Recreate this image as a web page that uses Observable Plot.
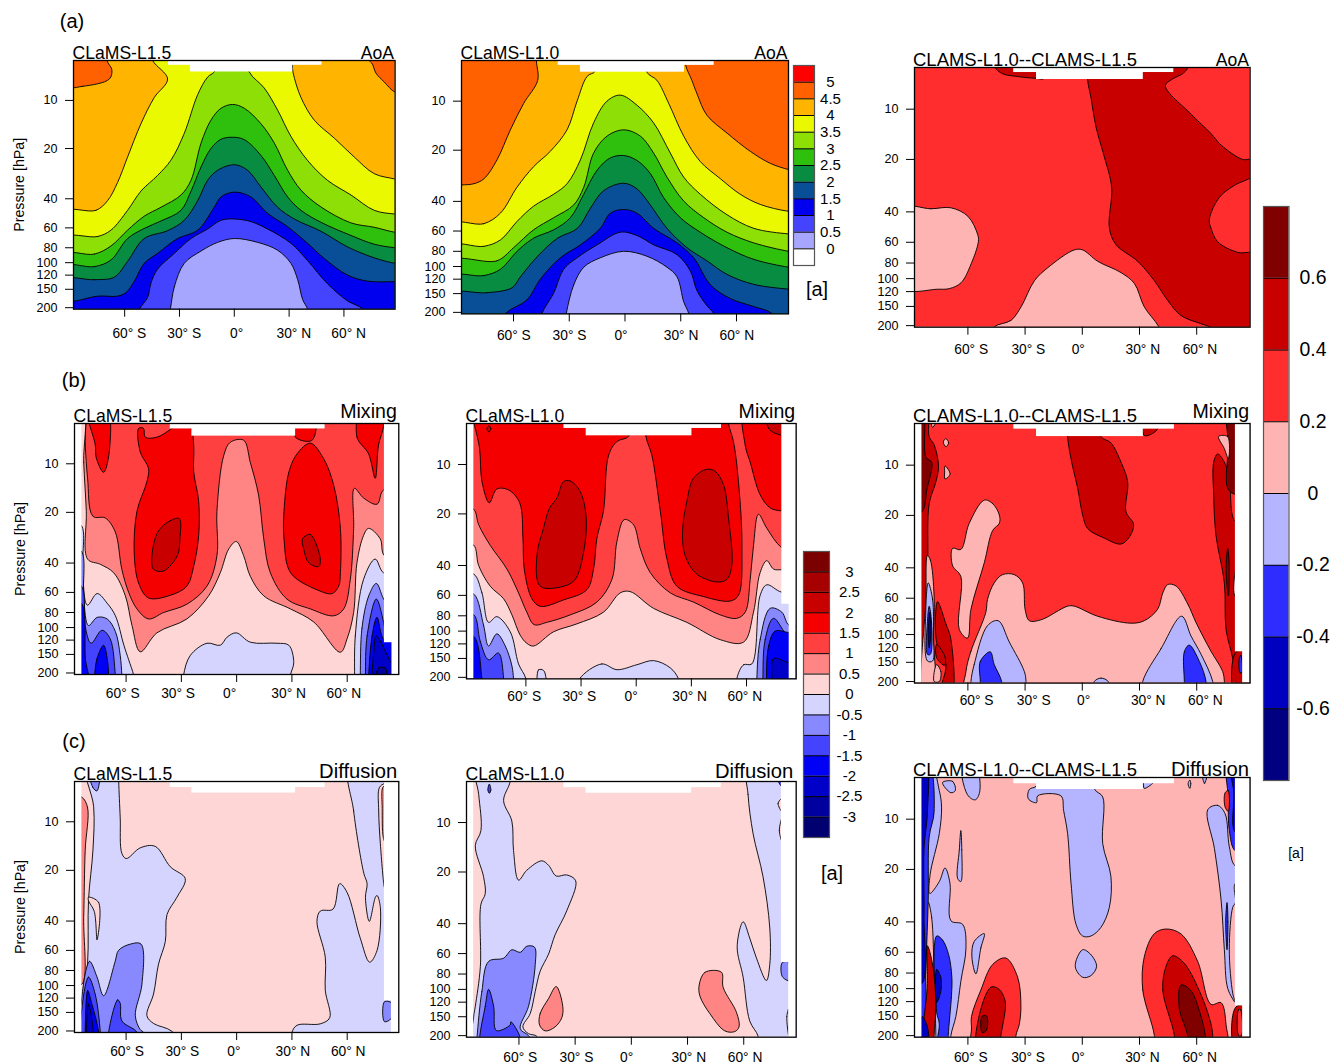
<!DOCTYPE html>
<html>
<head>
<meta charset="utf-8">
<script src="https://cdn.jsdelivr.net/npm/d3@7"></script>
<script src="https://cdn.jsdelivr.net/npm/@observablehq/plot@0.6"></script>
<style>
html,body{margin:0;padding:0;background:#fff}
#page{position:relative;width:1330px;height:1064px;overflow:hidden;font-family:"Liberation Sans",Arial,sans-serif;color:#000}
#page svg{position:absolute}
.note{position:absolute;white-space:nowrap;line-height:1}
</style>
</head>
<body>
<div id="page"></div>
<script>
// ---- shared axes (latitude in degrees, pressure in hPa) ----
const latTicks = [-60,-30,0,30,60];
const pTicks = [10,20,40,60,80,100,120,150,200];
const pLevels = [5.7,10,20,40,60,80,100,120,150,200,204];
const pFraction = [0,.1605,.354,.556,.673,.753,.813,.863,.92,.994,1];

// ---- colour bands ----
const aoaLevels = [0,.5,1,1.5,2,2.5,3,3.5,4,4.5,5];
const aoaColors = ["#ffffff","#a6a6ff","#4444ff","#0000ee","#084f98","#078c41","#2fc00e","#8ddf05","#ebf900","#ffb400","#ff6000","#ff0000"];
const tracerLevels = [-3,-2.5,-2,-1.5,-1,-.5,0,.5,1,1.5,2,2.5,3];
const tracerColors = ["#000070","#00009e","#0000c8","#0000f4","#4444ff","#8888ff","#d4d4ff","#ffd6d6","#ff8484","#ff4040","#f40000","#c80000","#a60000","#7b0000"];
const diffLevels = [-.6,-.4,-.2,0,.2,.4,.6];
const diffColors = ["#000080","#0000c0","#2d2dff","#b4b4ff","#ffb4b4","#ff2d2d","#c80000","#800000"];

// ---- missing-data boxes: [lat1, lat2, p1, p2] ----
const gapA = [[-36,48,3,6.1],[-24,32,3,6.7]];
const gapB1 = [[-36,48,3,6.15],[-24.3,32,3,6.8],[-99,-84,3,300],[80.2,99,3,125],[84.3,99,3,300]];
const gapB2 = [[-39.3,46.4,3,6.1],[-27.2,30.3,3,6.75],[-99,-88.3,3,300],[79.2,99,3,68],[83.2,99,3,300]];
const gapB3 = [[-35.9,48.3,3,6.15],[-24,32,3,6.8],[-99,-84.1,3,300],[80.3,99,3,128],[84.1,99,3,300]];
const gapC1 = [[-36,48,3,6.2],[-24.3,32,3,6.7],[-99,-84,3,300],[80.2,99,3,125],[84,99,3,300]];
const gapC2 = [[-36,48,3,6.2],[-24.2,32.2,3,6.7],[-99,-84.2,3,300],[80.1,99,3,68],[84,99,3,300]];
const gapC3 = [[-35.9,48.3,3,6.2],[-24,32,3,6.7],[-99,-84.1,3,300],[80.3,99,3,128],[84.1,99,3,300]];

// ---- contour regions: [band value, [lat,p, lat,p, ...]] ----
const aoaL15 = [
[4.75,[-95,8.2,-83,8.2,-68.4,7.4,-67,6.5,-69.7,5.7,-70,4.5,-95,4.5]],
[4.75,[95,8.9,88,8.9,82,7.7,77.5,6.8,75.6,6,74,5.7,74,4.5,95,4.5]],
[3.75,[-95,48.5,-75.7,47,-69.3,41,-63.9,32,-58.4,22.5,-51.1,14,-43.8,9.6,-36.5,7.4,-44.7,5.7,-47.4,4.5,30,4.5,32.1,6.7,36.5,9.6,43.8,13.3,54.7,17.2,65.7,22.5,76.6,28.3,88.1,30.5,95,32,95,260,-95,260]],
[3.25,[-95,70,-74.8,68,-67.5,62,-58.4,47,-51.1,36,-42,29,-34.7,23.5,-27.4,16.1,-20,9.2,-14.6,7.2,-11,6.7,-9,5.9,-5,4.5,5,4.5,8.2,6.7,16.4,8.4,23.7,11.5,31,16.8,40,23.5,51,31,63.9,38,76.6,47,88,49.5,95,50,95,260,-95,260]],
[2.75,[-95,89,-76.6,88,-67.5,78,-58.4,62,-49.3,51,-40.1,45,-29.2,38,-23.7,31,-18.2,18.5,-12.8,13.3,-7.3,11.2,-.9,10.6,5.5,11.2,14.6,14,21.9,18.5,29.2,27,36.5,35.5,47.4,44.8,63.9,56,76.6,59.5,88,64,95,65,95,260,-95,260]],
[2.25,[-95,106,-76.6,106,-67.5,96,-58.4,70,-49.3,60.5,-40.1,54.5,-29.2,47,-23.7,36,-18.2,25.8,-12.8,20,-7.3,17.5,-.9,17,5.5,17.6,14.6,22,21.9,29,29.2,39,36.5,47,47.4,55.5,63.9,67,76.6,76,88,80,95,81,95,260,-95,260]],
[1.75,[-95,130,-76.6,129,-65.7,124,-58.4,98,-49.3,70,-36.5,62.5,-27.4,54,-20,41,-14.6,31,-9.1,27,0,25,7.3,27,14.6,34,23.7,45,32.8,53,47.4,63,62,79,76.6,93,88,101,95,103,95,260,-95,260]],
[1.25,[-95,181,-88,181,-74.8,167,-63.9,167,-59.3,158,-54.7,132,-49.3,101,-42,87,-31,70,-20,62,-11,45,-7.3,39,0,36.5,9.1,39,18.2,49,29.2,59,40.1,75,49.3,94,62,120,73,132,88,133,95,133,95,260,-95,260]],
[.75,[-52,204,-47.4,170,-45.6,136,-42,110,-32.8,87,-23.7,70,-14.6,61,-7.3,54,0,53,9.1,55,18.2,61,31,75,40.1,97,51.1,138,62,180,70.3,204,75,260,-57,260]],
[.25,[-35,204,-32.8,144,-27.4,101,-18.2,84,-9.1,74,0,70,12.8,74,23.7,83,31,101,34.7,129,37.4,176,40.1,204,42,260,-37,260]]
];
const aoaL10 = [
[4.25,[-95,32,-88,32,-81.4,31.5,-76,29.5,-68.9,22.8,-61.7,15,-54.5,10.3,-47,7.5,-47.7,5.7,-48,4,5,4,32.5,5,32.5,6,36,7.5,38.7,9,44.1,12.2,54.9,15.7,67.4,20.3,78.2,23.9,88,26,95,27,95,260,-95,260]],
[3.75,[-95,55,-76,54.3,-67,46.9,-58.1,33,-49.2,25,-40.2,20.3,-31.2,15,-25.8,10,-20.4,7.1,-16,6.6,-14,4.5,10,4.5,11.8,6.7,17.2,7.5,23.5,10.3,31.6,16.4,40.5,23.3,51.3,29.4,62,36.3,72.8,41.7,88,45.8,95,46,95,260,-95,260]],
[3.25,[-95,74.6,-76,74.6,-67,68,-58.1,52.6,-49.2,42.7,-38.4,36.3,-31.2,31.5,-24,22.8,-16.9,13.6,-9.7,10,-2.5,9.2,6.5,10.6,15.4,13.6,24.4,20.8,31.6,28.8,40.5,36.3,54.9,48,69.3,57.8,88,62.5,95,63,95,260,-95,260]],
[2.75,[-95,93,-68.9,92,-60,76,-49.2,59,-38.4,50,-27.6,42,-22.2,33,-16.9,20.8,-9.7,16.4,-.7,15,8.3,16.4,15.4,20.8,22.6,28.8,31.6,39.8,42.4,50,54.9,61,69.3,71,88,80,95,82,95,260,-95,260]],
[2.25,[-95,116,-76,114,-67,104,-58.1,80,-49.2,66.4,-38.4,59,-29.4,50,-22.2,36.3,-15,26.2,-7.9,22.2,-.7,21.5,6.5,23,13.6,27.4,20.8,38,29.8,50,40.5,61,54.9,76,69.3,90,88,101,95,103,95,260,-95,260]],
[1.75,[-95,151,-74.3,148,-60.8,137,-56.3,116,-47,86,-36.3,66.4,-25.6,57.8,-18.5,43.7,-11.5,34.6,-.7,31.3,6.5,33.8,13.6,42,22.6,57.8,33.4,76,44.1,92,54.9,112,69.3,130,88,140,95,142,95,260,-95,260]],
[1.25,[-64.4,203,-52.7,165,-45.6,120,-34.8,88,-24,73,-13.3,57.8,-7.9,47,-.7,44.7,6.5,47,15.4,57.8,28,71,37,88,46,131,56.8,162,69.3,183,79.1,203,85,260,-70,260]],
[.75,[-44.7,203,-38.4,149,-33,104,-25.8,88,-15,73,-2.5,61,6.5,64,15.4,73,28,84,35.2,107,38.7,143,44,180,47.7,203,50,260,-47,260]],
[.25,[-31.6,203,-27.6,131,-22.2,101,-13.3,88,-.7,80,11.8,86,22.6,101,28,116,31.6,170,34.3,203,36,260,-33,260]]
];
const aoaDiff = [
[.5,[-46,4.5,-45.7,5.7,-41.8,6.2,-35.7,6.4,-24,6.6,-20,6.6,-20,4.5]],
[.5,[2.8,4.5,2.8,6.75,4.5,8.5,7.2,12.8,11.5,19.2,15.4,28.9,14.2,49.7,17.7,62,29,78,37.8,103,44.8,137,51.8,172,67.5,205,72.8,225,92,225,92,71,81.5,69,71,59.6,67.5,49.7,66.6,44.4,71.9,33,79.7,28.2,90,24.5,90,20,84.1,20,72.8,16.4,67.5,14,57,10.7,43.6,7.3,47.4,6.65,52.6,6.2,55.3,5.7,55.5,4.5]],
[.1,[-95,38,-79.4,38.4,-68.9,37.9,-60,42.4,-54.8,54.4,-54.5,59.5,-58.3,81,-63.6,106,-69.7,115,-75.9,116,-95,114]],
[.1,[-46.2,203,-37.4,185,-32.1,151,-25.1,103,-18.1,85.5,-4.2,66.7,.2,66.7,8,78,20.3,91.7,27.3,107,32.5,151,39.9,201,43,240,-50,240]]
];
const mixL15 = [
[.75,[-83.4,4.5,-82.2,7.7,-80.9,12.3,-78,21.1,-71.3,21.6,-65.9,26.1,-62.3,43.7,-58.6,60,-54.1,76,-47.8,88,-39.6,80,-27,71,-16.1,55,-10.7,36.2,-10.7,19.7,-7,8.9,-3.4,7.4,3.8,7.2,7.4,9.8,11.9,15.6,14.7,28.7,18.3,45.8,27.3,66,40,76,52.7,84,58.1,76,61.7,50,63.5,24.9,63.9,14.2,68.9,16.3,76.2,17.8,79.8,14.5,95,14.5,95,260,-95,260,-95,4.5]],
[1.75,[-80.9,4.5,-76.7,7.7,-76.2,9.2,-72.2,11.3,-68.9,8,-70.7,4.5]],
[1.75,[-53.2,6.1,-50.5,6.1,-49.6,6.9,-43.3,6.9,-36,6.2,-30,5.5,-25,6,-23.3,7.7,-23.3,11.2,-20.6,17.1,-20.6,27.4,-23.3,41.7,-27,55,-36,62.5,-47.8,65,-53.2,52.7,-55.6,34.6,-54.1,19.7,-48.7,12.9,-47.8,10.7,-52.3,8.5]],
[1.75,[31.9,5,31.9,6.9,41,7.2,42.2,5]],
[1.75,[40,7.5,47.2,9.3,52.7,13.6,56.3,24.9,56.3,45.8,55.4,55,51.8,61,43.7,57.9,29.3,45.8,25.7,28.7,25.7,19.7,28.4,11.2,32.8,8.7]],
[1.75,[68,4.5,65.3,6.9,71.6,8.7,75.2,12.3,77,7.7,79.8,5.9,80,4.5]],
[2.25,[-41.5,25,-36,22.4,-31.1,21.8,-30.8,28.7,-32.2,36.2,-39.8,44.7,-45.2,43.5,-46.1,38.5,-44.3,28.7]],
[2.25,[35.8,28.7,40,27,45.4,37.9,44.5,42,39.1,39.8,36.4,33]],
[.25,[-83.8,4.5,-83,9.8,-81.6,19.7,-80.9,37.9,-74,40.7,-66.7,45.8,-60.4,63,-56.8,97,-52.3,144,-43.3,108,-27,88,-15.2,63,-8.9,45.8,-4.3,33,-.2,29.8,3.8,36.2,7.4,48,14.7,63,29.2,76,41.8,92,56.3,145,59.9,118,63.5,80,65.3,39.8,68.9,27.4,71.6,24.9,77.9,28.7,80.2,36.2,95,40,95,260,-95,260,-95,4.5]],
[-.25,[-28.8,250,-28.8,206,-25.1,152,-16.1,126,-8.9,130,-5.2,115,-.2,108,7.4,124,21.9,126,28.3,130,31,170,29.2,206,29,250]],
[-.25,[-84.3,24,-83.6,45,-81,72,-75.7,61,-70.3,70,-65.8,84,-61.2,130,-58.6,163,-55.9,206,-55,250,-90,250,-90,24]],
[-.75,[-84.3,34,-83,66,-80.4,97,-75.7,86,-70.3,88,-65.8,106,-63.2,152,-62.3,206,-62,250,-90,250,-90,34]],
[-1.25,[-84.3,55,-82,101,-79,126,-73.1,104,-68.6,118,-65.8,206,-65,250,-90,250,-90,55]],
[-1.75,[-77.1,206,-75.8,160,-72.2,130,-70,168,-69.5,206,-69,250,-78,250]],
[-1.75,[-84.3,70,-82,165,-80.4,206,-80,250,-90,250,-90,70]],
[-.25,[64,206,64.4,113,68.9,50,75.2,37.9,79.8,45.8,90,45.8,90,250,64,250]],
[-.75,[67.1,206,68,101,71.7,63,75.8,53,79.8,66,90,100,90,250,67,250]],
[-1.25,[69.9,206,70.8,113,75.8,66,79.8,93,83.4,170,90,170,90,250,70,250]],
[-1.75,[71.7,206,73.5,113,76.2,86,80.2,120,90,120,90,250,71.7,250]],
[-2.25,[73.5,206,74.4,145,75.8,113,81.6,150,84,170,90,170,90,250,73.5,250]],
[-2.75,[75.8,206,77,185,80.7,185,81.6,206,81.6,250,75.8,250]]
];
const mixL10 = [
[1.75,[-89.4,5,-87.5,6.1,-85.2,8,-83.9,12.7,-79.9,17.1,-75.8,14.1,-69.4,14.3,-63.4,17.1,-61.6,27.8,-60.9,42,-56.7,63,-52.2,70,-39.5,64,-26.8,55.5,-23.2,42,-21.4,27.8,-17.8,19.2,-15,8.8,-10.5,7.3,-4.2,6.8,-4.2,5.5,-4.2,4.5,-89.4,4.5]],
[1.75,[5.3,4.5,5.3,6.8,8.5,8.8,13.1,19.2,16.7,36.6,22.1,53,36.6,61,51.1,65,55.6,60,57.5,30.5,55.6,12.7,52.9,7.3,50.2,5.7,50,4.5]],
[1.75,[59.3,4.5,59.3,7.7,62,9.7,67.4,15.3,72.9,18.4,79.2,19.2,90,19.5,90,4.5]],
[2.25,[72,4.5,72,6.1,79.2,6.7,90,6.7,90,4.5]],
[2.25,[-80.1,5.9,-79,6.1,-80.1,6.4,-81.2,6.1]],
[2.25,[-39.5,12.7,-35.9,12.6,-30.5,14.6,-27.2,21.1,-28.6,33.4,-33.2,48.3,-39.5,53,-52.2,53,-54,35,-50.4,24.2,-47.1,18.4,-43.1,16]],
[2.25,[38.4,10.7,43,11,47.5,13.3,50.2,21.1,52,40,49.3,48.3,43.9,50,33,45,26.6,35,25.2,25.3,27.6,16.7,31.2,12.1]],
[.75,[-95,18.8,-88.3,18.8,-85.7,23.1,-79.4,30.5,-70.3,42,-64,58,-59.5,76,-55.5,91,-48.6,88,-35.9,79,-21.4,66,-13.2,48.3,-10.5,29,-6.5,21.6,-1.5,23.1,2.2,31.9,7.6,44,18.5,58,31.2,66,45.7,79,54.7,83,59.3,76,62,48.3,63.8,30.5,66.5,20.1,71,24.2,79.2,31.6,95,38,95,260,-95,260]],
[.25,[-95,30.5,-88.3,30.5,-85.7,40,-79.4,53,-72.1,63,-67.6,79,-63.1,106,-59.5,119,-55.8,124,-45,101,-32.3,90,-17.8,76,-8.7,58,-3.3,57,9.4,72,27.5,88,45.7,113,58.4,117,63.8,76,67.4,44,71,37.5,74.7,42,79.2,42.4,95,43,95,260,-95,260]],
[-.25,[-88.3,45,-83.9,58,-80.3,88,-75.8,81,-68.5,101,-64,163,-60,204,-60,260,-95,260,-95,45]],
[-.25,[-54,204,-53.1,178,-50.4,180,-49,204,-49,240,-54,240]],
[-.25,[-30.8,204,-18.7,163,-10.5,178,.4,165,9.4,155,18.5,173,23,204,24,240,-32,240]],
[-.25,[54.7,204,58.4,165,62.9,163,67.4,60,71,52,79.2,57.5,95,57.5,95,260,54.7,260]],
[-.75,[-88.3,59,-83,92,-80.3,124,-75.8,104,-71.2,124,-67.6,168,-66.7,204,-66,260,-95,260,-95,59]],
[-1.25,[-88.3,79,-84.8,116,-80.3,153,-74.9,138,-72.1,204,-72,260,-95,260,-95,79]],
[-1.75,[-88.3,108,-83.9,204,-83,260,-95,260,-95,108]],
[-.75,[65.6,204,67.4,113,72.9,72,79.2,76,83.2,92,95,92,95,260,65.6,260]],
[-1.25,[68.9,204,70.1,113,74.7,83,83.2,108,95,108,95,260,68.9,260]],
[-1.75,[70.8,204,72,124,75.6,100,83.2,102,95,102,95,260,70.8,260]],
[-2.25,[73.8,204,74.7,150,83.2,160,95,160,95,260,73.8,260]]
];
const mixDiff = [
[.5,[-7.7,5,-7.7,6.8,-5.9,9.2,-2.4,13.8,.2,19.9,2.8,23.8,11.5,27,20.3,29.2,24.7,26.6,26.9,22.5,22.9,19,23.8,12.6,20.3,9.6,15,7.4,9.8,6.8,9.8,5]],
[.5,[-84.1,4.5,-81.1,4.5,-80.3,6.8,-77.7,7.6,-75.4,10.1,-76.8,12.6,-80.3,17,-81,34,-81,60,-80,250,-90,250,-90,4.5]],
[.7,[-84.1,4.5,-82.9,4.5,-82,9,-79,9.6,-81.5,14,-84.1,19,-90,19,-90,4.5]],
[.1,[-81.2,34,-79.7,36,-77.7,59,-78,110,-77.7,250,-83,250,-82,60]],
[-.1,[-80.8,48.9,-78.5,61,-78.1,101,-78.5,147,-81.2,147,-82.1,73]],
[-.3,[-80.3,67,-79.1,83,-79.7,133,-81.2,133,-81.2,83]],
[-.5,[-80,73,-79.4,97,-80.3,121,-80.8,97]],
[.5,[-75.9,63,-71.5,86,-68.9,107,-68.9,250,-75,250,-71.5,155,-76.4,112]],
[.5,[-76.4,115,-72,138,-72.2,157,-76.4,140]],
[.1,[-76.4,155,-74.2,172,-75,200,-77.7,200]],
[.5,[71,8.6,68.9,9.6,68.9,15.1,70.1,26,74.5,48.9,75.4,93,78.9,142,80.3,200,90,250,90,21.7,80.3,21.7,77.1,12.1,74.5,9.6]],
[.7,[76.6,4.5,90,4.5,90,15,80.3,15,76.3,13.8,76.6,7.6]],
[.1,[71.5,6.8,76.3,6.8,76.6,9.2,74.5,8]],
[.7,[76.3,31,77.1,40.5,76.6,58,75.4,40.5]],
[.1,[81,38,79.4,55,81,60]],
[.5,[80.6,129,90,129,90,250,80.6,250]],
[-.3,[82.4,140,83.2,135,83.7,175,82.7,175]],
[.1,[-61,172,-58.4,127,-50.6,73,-49.7,61,-46.2,48.9,-41.8,43.8,-35.7,43.8,-31.3,48.9,-30,70,-27.8,82,-21.7,81,-7.7,67,-4.2,67,8,77,25.5,85,32.5,82,39.5,70,42.2,56,44.8,50,49.2,51,55.3,65,59.6,84,67.5,127,73.6,172,74.5,200,74.5,250,-61,250]],
[.1,[-51.4,16.2,-47,17,-43.5,19.9,-43.5,22.2,-47,24.4,-51.4,37.4,-58.4,70,-60.2,105,-64.5,93,-63.7,44.8,-68,39,-68,30.9,-63.7,31.4,-59.3,22.2]],
[-.1,[-58.4,200,-56.7,155,-49.7,88,-44.1,82,-38.3,111,-30.4,172,-29.5,200,-29.5,250,-58.4,250]],
[-.1,[31.7,200,41.3,122,52.1,77,57,102,62.3,133,68.4,200,69,250,31.7,250]],
[-.1,[6.3,200,9.8,190,13.6,200,13.6,230,6.3,230]],
[-.3,[-53.5,200,-53.5,148,-48.3,128,-46.2,155,-42.3,200,-42.3,250,-53.5,250]],
[-.3,[53.5,200,53.5,128,56.1,116,61.4,148,64.9,200,64.9,250,53.5,250]],
[.1,[-71.5,7,-70.1,7.4,-71.5,7.8,-72.9,7.3]],
[.1,[-72,10.1,-69.3,11.3,-72,12.1,-72.2,11]],
[.1,[-79.5,5,-76,5.2,-78.5,6]],
[.5,[32.5,5,39.2,5,39.2,6.2,32.5,6.7]]
];
const difL15 = [
[-.25,[-81.6,4.5,-64.1,4.5,-64,5.7,-63.2,9.4,-62.3,15.7,-59.9,16.9,-52.3,14.5,-44.2,14.2,-36,19,-27.9,22.4,-32.4,28.9,-37.8,36.6,-38.7,53,-42.4,73,-45.1,113,-48.7,158,-45.1,178,-35.1,201,-30,250,-84,250,-84,142,-80.9,72,-80.4,30,-78,15,-77.6,8.1]],
[.25,[-80.4,28.9,-74.9,31,-75.8,51.9,-77.3,35,-80.4,30.3]],
[-.75,[-80.4,4.5,-78,6.2,-75.8,6.5,-74.9,4.5]],
[.75,[-84,7.1,-80.9,8.2,-82.2,15,-83,38,-84,98,-90,98,-90,7]],
[-.75,[-84,118,-79.8,70,-75.8,88,-72.2,116,-65.9,70,-64.1,60,-57.7,55,-51.9,55,-51.4,98,-55,158,-52.3,196,-50.5,204,-50,250,-84,250]],
[-1.25,[-84,142,-80.4,88,-76.8,113,-74,204,-74,250,-84,250]],
[-1.25,[-69.5,204,-64.6,123,-63.2,130,-62.3,171,-54.1,204,-54,250,-69.5,250]],
[-1.75,[-82.2,204,-80.9,107,-78.6,131,-74.9,204,-75,250,-82.2,250]],
[-2.25,[-81.6,204,-80.4,131,-78,190,-78,250,-81.6,250]],
[-.25,[61.7,4.5,63.5,8.6,69,20.8,70.8,24,69.9,28.9,72,40.2,75.3,28.9,76.2,28.2,78,33.3,76.2,60,72.2,71,67.1,50.7,59.9,27,55.9,24,52.3,34,45.4,34.9,43.6,40.2,48.1,66,48.1,107,50.5,163,45.4,179,32.8,183,30,204,30,250,99,250,99,4.5]],
[.25,[77.5,6.2,80.2,5.9,80.2,25.2,78,13.7,77.1,8.6]],
[.75,[79.3,6.2,81,6,81,13.7,79.6,12.5,79,8.3]],
[-.75,[80.2,127,84,129,83.8,165,80.2,173]]
];
const difL10 = [
[-.25,[-83.3,4.5,-64.7,4.5,-64.7,5.7,-68.2,7.4,-63.8,9.8,-62.9,14.8,-60.2,22.3,-55.8,19.5,-47.8,17.1,-44.2,18.2,-40.1,21.1,-34.5,20.8,-29.7,22.5,-34.5,33.7,-40.7,46.5,-44.2,60.5,-48.7,77,-51.3,103,-54,143,-57.9,175,-54.9,194,-50.4,202,-50,250,-84.2,250,-84.2,151,-83.3,128,-80.6,72,-80.3,30.8,-78,26.8,-78.9,21.3,-83.3,13.8,-80.3,11.2,-81.5,6.8]],
[-.75,[-82.4,205,-79.8,103,-76.2,67,-68.2,64,-63.8,57,-59.3,59,-55.8,54.3,-51.7,55,-51.3,70,-54.9,128,-59.3,180,-54.9,200,-50,250,-83,250]],
[-1.25,[-81,205,-78,128,-76.2,100,-73.5,128,-72.1,185,-64.7,170,-64.3,162,-59.3,205,-59,250,-81,250]],
[-1.25,[-75.8,5.9,-75,6.4,-75.8,6.7,-76.6,6.4]],
[.75,[-49,170,-48.7,143,-44.2,114,-40.1,96,-36.6,128,-37.1,152,-40.7,175,-46,186]],
[.75,[36.2,94,39.3,78,48.1,78,49,97,56.1,140,57.5,175,55.2,188,49.9,186,41.9,143,36.6,110]],
[-.25,[62.3,4.5,62.3,6.8,65,11.7,70.3,21.3,73.9,42.4,73.9,70,72.1,88,66.8,64,63.2,48.6,59.7,39,56.5,54.5,59.7,84,63.2,160,67.7,202,67.7,250,92,250,92,4.5]],
[.25,[80.4,7.2,78.3,7.7,80.4,8.6]],
[.25,[80.4,9.4,79,11.2,80.4,13]],
[.25,[84,133,83,150,84,200]],
[-.75,[80.6,68,84.5,68,84.5,88,80.6,83]],
[-1.25,[76.6,4.5,80.2,6.1,85,6.1,85,4.5]]
];
const difDiff = [
[-.1,[-90,4.5,-80.3,4.5,-75,6.8,-73.8,8.5,-75,12.2,-79.8,21.4,-80,27.5,-75,23.5,-72,19.6,-69.4,24,-68.9,39.4,-62.8,41.3,-61,56.6,-63.7,90,-66.3,150,-68.9,200,-69,250,-90,250]],
[.1,[-80.8,30.8,-79,37.7,-77.7,85,-76.8,200,-76.8,250,-82,250,-82,71]],
[-.3,[-90,4.5,-81.2,4.5,-77.7,9,-80.3,12.8,-80.8,30,-82,71,-84.1,250,-90,250]],
[-.5,[-90,4.5,-82.4,4.5,-81.2,9,-83,15,-83,37,-84.1,93,-90,93]],
[-.3,[-76.4,48.3,-73.3,50.9,-70.1,62,-68.4,85,-68.6,110,-70.3,200,-70.5,250,-76.2,250,-75,168,-76.4,140]],
[-.5,[-76.4,76,-74.2,85,-74.2,104,-76.4,122]],
[.5,[-81.2,55,-78.5,71,-76.8,127,-77.7,200,-77.7,250,-82.9,250,-81.2,93]],
[-.5,[-84.1,150,-81.2,175,-81.2,250,-84.1,250]],
[-.1,[-63.7,11.7,-63.2,15.3,-63.7,23.5,-65.4,22.5,-64.5,15.3]],
[-.1,[-73.3,6.1,-68,6,-66.6,6.8,-68.9,7]],
[-.1,[-63.1,4.5,-56.7,4.5,-53.7,6.8,-56.1,7.7,-60.2,7.2]],
[-.1,[-51.4,46.8,-53.2,56.6,-55.8,81,-57.9,64,-56.7,52]],
[-.1,[-27.8,6.7,-24,6.4,-20,5,6.6,5,6.6,6.7,10.7,7.4,10.7,14,15,21.9,14.2,33,9.8,43,4.5,48.3,.2,48.3,-3.3,41.3,-5.9,24,-7.7,12.2,-9.8,8.9,-11.2,7.3,-23.4,7.3,-24,8,-28.3,7.6]],
[-.1,[.2,58,4.5,62,7.5,73,4.5,83,.2,85,-3.7,73]],
[-.1,[65.8,8.8,71,8.3,74.9,9.3,77.1,14.6,80.3,19.1,90,19,90,25,80.3,24,80.3,31,78.9,33,77.1,57.5,78.9,107,80.3,122,76.3,100,74.5,58,72.8,30,69.3,15]],
[-.3,[75.9,31,76.4,40,75.9,58,75.2,40]],
[-.3,[76.6,4.5,90,4.5,90,15.5,80.3,15.5,77.1,11.7,76.6,7.6]],
[-.5,[78,4.5,90,4.5,90,12,80.3,12,79.5,7]],
[.3,[74.9,7,76.6,6.8,76.6,9,74.9,8.5]],
[-.1,[62.3,4.5,64.1,6.2,66.3,4.5]],
[-.1,[56.4,5.9,56.9,6.2,56.4,6.6,55.5,6.2]],
[-.1,[32.5,6,37.8,6,32.5,6.6]],
[.3,[-58,250,-58.1,180,-58.1,150,-53.2,102,-47,71,-40.1,65,-33.9,85,-32.2,126,-33,168,-34.8,200,-35,250]],
[.5,[-54.9,250,-54.9,166,-47.9,98,-43.6,101,-40.4,120,-40.9,150,-42.7,200,-43,250]],
[.7,[-52.6,190,-52.6,150,-50.2,149,-49.7,172,-50.6,187]],
[.3,[37.8,200,31.7,102,32.5,64,37.8,46.8,43.9,44,51.8,47,60.5,68,67.5,125,72.8,122,75.4,170,75.4,250,37.8,250]],
[.5,[48.3,200,42.2,102,43.9,73,47.4,63,53.5,70,62.3,109,67.5,168,68.4,200,68.4,250,48.3,250]],
[.7,[55.3,200,50.9,134,51.8,95,57,103,61.4,138,64.5,200,64.5,250,55.3,250]],
[.5,[80.6,130,90,130,90,250,80.6,250]],
[.3,[82,135,83,135,83.5,200,82,200]]
];

// ---- page assembly ----
const FONT = '"Liberation Sans",Arial,sans-serif';
const page = document.getElementById("page");
const MT = 26, MB = 42, ML = 62, MR = 8;
const pairs = a => { const o = []; for (let i = 0; i < a.length; i += 2) o.push({lat:a[i], p:a[i+1]}); return o; };
const latLabel = d => d === 0 ? "0°" : `${Math.abs(d)}° ${d < 0 ? "S" : "N"}`;

function panel({box, dom=[-88,88], bg, regions, gaps, left, right, leftSize=17.6, rightSize=17.6, leftDx=-1, rightDx=-1, rightDy=-1, yLabel, color, labDx=3, zeroDx=-3, labPad=17}) {
  const [l, r, t, b] = box;
  const H = b - t;
  const nonzero = latTicks.filter(d => d !== 0);
  const plot = Plot.plot({
    width: r - l + ML + MR, height: H + MT + MB,
    marginLeft: ML, marginRight: MR, marginTop: MT, marginBottom: MB,
    style: {background:"none", overflow:"visible", fontFamily:FONT, color:"#000", maxWidth:"none"},
    x: {domain: dom, axis: null},
    y: {type:"log", domain: pLevels, range: pFraction.map(f => MT + f * H), axis: null},
    color,
    marks: [
      Plot.rect([0], {x1:() => dom[0], x2:() => dom[1], y1:() => pLevels[0], y2:() => pLevels[pLevels.length-1], fill:() => bg}),
      ...regions.map(([v, pts]) => Plot.line(pairs(pts), {x:"lat", y:"p", fill:() => v, stroke:"#000", strokeWidth:.9, curve:"catmull-rom-closed", clip:true})),
      Plot.rect(gaps, {x1:"0", x2:"1", y1:"2", y2:"3", fill:"#fff", clip:true}),
      Plot.frame({stroke:"#000", strokeWidth:1.3}),
      Plot.axisX({ticks:latTicks, tickSize:8, tickFormat:() => "", anchor:"bottom"}),
      Plot.axisX({ticks:nonzero, tickSize:0, tickPadding:labPad, dx:labDx, tickFormat:latLabel, anchor:"bottom", fontSize:13.8}),
      Plot.axisX({ticks:[0], tickSize:0, tickPadding:labPad, dx:zeroDx, tickFormat:latLabel, anchor:"bottom", fontSize:13.8}),
      Plot.axisY({ticks:pTicks, tickSize:8, tickFormat:() => "", anchor:"left"}),
      Plot.text(pTicks, {y:d => d, frameAnchor:"left", dx:-16, textAnchor:"end", text:d => String(d), fontSize:12.6}),
      yLabel ? Plot.text(["Pressure [hPa]"], {frameAnchor:"left", dx:-54, rotate:-90, textAnchor:"middle", text:d => d, fontSize:14.2}) : null,
      Plot.text([left], {frameAnchor:"top-left", lineAnchor:"bottom", dx:leftDx, dy:-1, text:d => d, fontSize:leftSize}),
      Plot.text([right], {frameAnchor:"top-right", lineAnchor:"bottom", dx:rightDx, dy:rightDy, text:d => d, fontSize:rightSize})
    ]
  });
  plot.style.left = (l - ML) + "px";
  plot.style.top = (t - MT) + "px";
  page.appendChild(plot);
}

function colorbar({x, y, w, h, lo, hi, levels, color, fontSize, labelX}) {
  const edges = [lo, ...levels, hi];
  const bands = d3.pairs(edges);
  const plot = Plot.plot({
    width: w + 60, height: h + 4,
    marginLeft: 2, marginRight: 58, marginTop: 2, marginBottom: 2,
    style: {background:"none", overflow:"visible", fontFamily:FONT, color:"#000", maxWidth:"none"},
    x: {domain:[0,1], axis:null},
    y: {domain:[lo,hi], axis:null},
    color,
    marks: [
      Plot.rect(bands, {x1:() => 0, x2:() => 1, y1:"0", y2:"1", fill:d => (d[0]+d[1])/2}),
      Plot.ruleY(levels, {stroke:"#000", strokeWidth:1}),
      Plot.frame({stroke:"#555", strokeWidth:1.2}),
      Plot.text(levels, {x:() => 1, y:d => d, dx:labelX, text:d => String(d), textAnchor:"middle", fontSize})
    ]
  });
  plot.style.left = (x - 2) + "px";
  plot.style.top = (y - 2) + "px";
  page.appendChild(plot);
}

function note(text, cx, cy, size) {
  const d = document.createElement("div");
  d.className = "note";
  d.textContent = text;
  d.style.left = cx + "px";
  d.style.top = cy + "px";
  d.style.fontSize = size + "px";
  d.style.transform = "translate(-50%,-50%)";
  page.appendChild(d);
}

const aoaScale = {type:"threshold", domain:aoaLevels, range:aoaColors};
const mixScale = {type:"threshold", domain:tracerLevels, range:tracerColors};
const diffScale = {type:"threshold", domain:diffLevels, range:diffColors};

panel({box:[72.7,394.3,60.3,309], bg:4.25, regions:aoaL15, gaps:gapA, left:"CLaMS-L1.5", right:"AoA", yLabel:true, color:aoaScale, labDx:4.7, zeroDx:2.3, labPad:18.7});
panel({box:[461.3,788.3,60.3,313.7], bg:4.75, regions:aoaL10, gaps:gapA, left:"CLaMS-L1.0", right:"AoA", color:aoaScale, labDx:.3, zeroDx:-4, labPad:16.3});
panel({box:[913.7,1249.3,67,326.7], bg:.3, regions:aoaDiff, gaps:gapA, left:"CLAMS-L1.0--CLAMS-L1.5", leftDx:-1.5, right:"AoA", leftSize:18.5, color:diffScale, labDx:3.3, zeroDx:-4, labPad:17.3});
panel({box:[74,398.3,423.3,674.3], bg:1.25, regions:mixL15, gaps:gapB1, left:"CLaMS-L1.5", right:"Mixing", rightSize:19.6, rightDx:-2, rightDy:-5, yLabel:true, color:mixScale, labDx:-3.3, zeroDx:-7, labPad:14});
panel({box:[466.3,796,423.3,678.7], dom:[-92.3,87], bg:1.25, regions:mixL10, gaps:gapB2, left:"CLaMS-L1.0", right:"Mixing", rightSize:19.6, rightDx:-1, rightDy:-5, color:mixScale, labDx:-1.7, zeroDx:-5, labPad:12.3});
panel({box:[913.7,1249.3,422.7,682.3], bg:.3, regions:mixDiff, gaps:gapB3, left:"CLAMS-L1.0--CLAMS-L1.5", leftDx:-1.5, right:"Mixing", leftSize:18.5, rightSize:19.6, rightDy:-5, color:diffScale, labDx:8.7, zeroDx:1.3, labPad:11.7});
panel({box:[74,398.3,781,1032], bg:.25, regions:difL15, gaps:gapC1, left:"CLaMS-L1.5", right:"Diffusion", rightSize:20.2, rightDx:-1.5, rightDy:-3, yLabel:true, color:mixScale, labDx:1, zeroDx:-2.7, labPad:14});
panel({box:[466.3,796,781,1036.7], bg:.25, regions:difL10, gaps:gapC2, left:"CLaMS-L1.0", right:"Diffusion", rightSize:20.2, rightDx:-3, rightDy:-3, color:mixScale, labDx:1.3, zeroDx:-4.7, labPad:14.5});
panel({box:[913.7,1249.3,777,1036.7], bg:.1, regions:difDiff, gaps:gapC3, left:"CLAMS-L1.0--CLAMS-L1.5", leftDx:-1.5, right:"Diffusion", leftSize:18.5, rightSize:20.2, rightDx:-1, rightDy:-1, color:diffScale, labDx:3, zeroDx:-4, labPad:15});

colorbar({x:793, y:65, w:21, h:200, lo:-.5, hi:5.5, levels:aoaLevels, color:aoaScale, fontSize:15, labelX:16});
colorbar({x:803, y:551, w:26, h:286, lo:-3.5, hi:3.5, levels:tracerLevels, color:mixScale, fontSize:15, labelX:20});
colorbar({x:1262.5, y:206, w:25.5, h:574, lo:-.8, hi:.8, levels:diffLevels, color:diffScale, fontSize:19.4, labelX:24});

note("(a)", 72, 21, 20);
note("(b)", 74, 380, 20);
note("(c)", 74, 741, 20);
note("[a]", 817, 289, 20);
note("[a]", 832, 873, 20);
note("[a]", 1296, 853, 14);
</script>
</body>
</html>
